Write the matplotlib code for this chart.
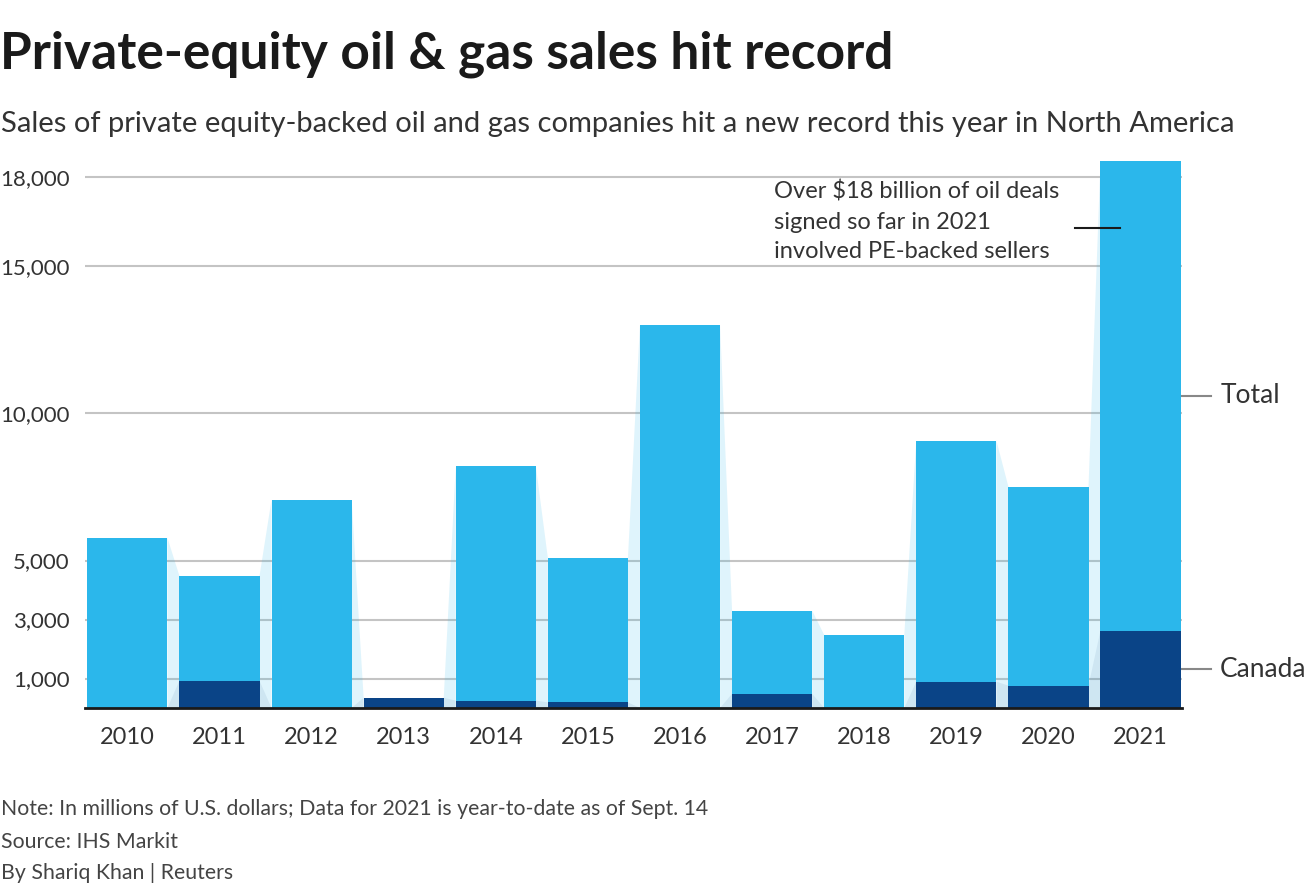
import numpy as np
import matplotlib
matplotlib.use("Agg")
import matplotlib.pyplot as plt
from matplotlib.ticker import FuncFormatter

years = ["2010", "2011", "2012", "2013", "2014", "2015", "2016",
         "2017", "2018", "2019", "2020", "2021"]
total = [5770, 4480, 7060, 350, 8190, 5100, 13000, 3300, 2480, 9070, 7510, 18550]
canada = [0, 920, 0, 350, 250, 190, 0, 480, 0, 890, 760, 2620]
yticks = [1000, 3000, 5000, 10000, 15000, 18000]

light = "#2bb7eb"
dark = "#0a4487"
txt = "#333333"

plt.rcParams['font.family'] = ['Lato', 'DejaVu Sans']

fig = plt.figure(figsize=(13.14, 8.94), dpi=100)
ax = fig.add_axes([85/1314, 1-708/894, (1182-85)/1314, (708-161)/894])

x = np.arange(len(years))
w = 0.87

# connectors between neighbouring bars
for series, col, a in [(total, light, 0.15), (canada, dark, 0.08)]:
    for i in range(len(x)-1):
        x0 = x[i] + w/2
        x1 = x[i+1] - w/2
        ax.fill([x0, x0, x1, x1], [0, series[i], series[i+1], 0],
                color=col, alpha=a, lw=0, zorder=1)

ax.bar(x, total, width=w, color=light, zorder=3)
ax.bar(x, canada, width=w, color=dark, zorder=4)

ax.set_xlim(-0.46, 11.45)
ax.set_ylim(0, 18550)
ax.set_yticks(yticks)
ax.yaxis.set_major_formatter(FuncFormatter(lambda v, p: f"{int(v):,}"))
ax.set_xticks(x)
ax.set_xticklabels(years)
ax.tick_params(axis='y', length=0, pad=11, labelsize=16, labelcolor=txt)
ax.tick_params(axis='x', length=0, pad=14, labelsize=17, labelcolor=txt)
ax.set_axisbelow(True)
ax.yaxis.grid(True, color="#c4c4c4", lw=1.5)
for s in ['top', 'right', 'left']:
    ax.spines[s].set_visible(False)
ax.spines['bottom'].set_color("#1a1a1a")
ax.spines['bottom'].set_linewidth(2)
ax.spines['bottom'].set_zorder(5)

# right side labels
last = len(x) - 1
xr = x[last] + w/2
ax.plot([xr, xr + 0.33], [(total[last]+canada[last])/2]*2, color="#888888", lw=1.5, clip_on=False)
ax.text(xr + 0.43, (total[last]+canada[last])/2, "Total", fontsize=19, color=txt,
        va='center', ha='left', clip_on=False)
ax.plot([xr, xr + 0.33], [canada[last]/2]*2, color="#888888", lw=1.5, clip_on=False)
ax.text(xr + 0.43, canada[last]/2, "Canada", fontsize=19, color=txt,
        va='center', ha='left', clip_on=False)

# annotation
ax.plot([10.29, 10.78], [16280, 16280], color="#1a1a1a", lw=1.5, zorder=6)
ax.text(7.02, 17880, "Over $18 billion of oil deals\nsigned so far in 2021\ninvolved PE-backed sellers",
        fontsize=17, color=txt, va='top', ha='left', linespacing=1.52, zorder=6)

fig.text(0.0, 1-68/894, "Private-equity oil & gas sales hit record", fontsize=37,
         fontweight='bold', color="#1a1a1a", va='baseline', ha='left')
fig.text(0.001, 1-132/894, "Sales of private equity-backed oil and gas companies hit a new record this year in North America",
         fontsize=21, color=txt, va='baseline', ha='left')
fig.text(0.001, 1-815/894, "Note: In millions of U.S. dollars; Data for 2021 is year-to-date as of Sept. 14",
         fontsize=15.3, color="#444444", va='baseline', ha='left')
fig.text(0.001, 1-848/894, "Source: IHS Markit", fontsize=15.3, color="#444444", va='baseline', ha='left')
fig.text(0.001, 1-879/894, "By Shariq Khan | Reuters", fontsize=15.3, color="#444444", va='baseline', ha='left')

fig.savefig("out.png", dpi=100)
